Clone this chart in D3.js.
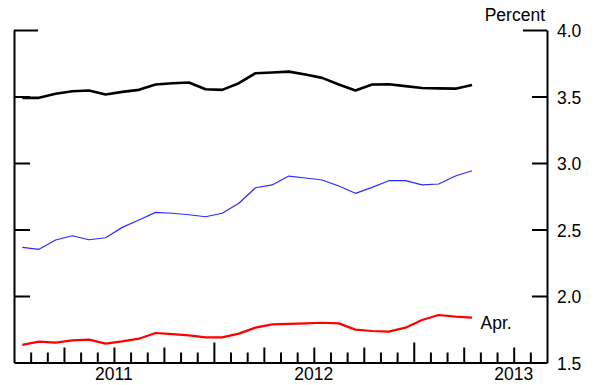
<!DOCTYPE html>
<html>
<head>
<meta charset="utf-8">
<script src="https://cdn.jsdelivr.net/npm/d3@7"></script>
<style>
  html, body { margin: 0; padding: 0; background: #fff; }
  svg { display: block; font-family: "Liberation Sans", Arial, sans-serif; }
</style>
</head>
<body>
<svg id="chart" width="603" height="385"></svg>
<script>
// Monthly observations, Jan 2011 .. Apr 2013
const startYear = 2011;
const nMonths = 28;
const seriesBlack = [3.49, 3.49, 3.52, 3.54, 3.545, 3.515, 3.535, 3.55, 3.59, 3.60, 3.605, 3.555,
                     3.55, 3.60, 3.675, 3.68, 3.687, 3.665, 3.64, 3.59, 3.545, 3.59, 3.592, 3.578,
                     3.564, 3.561, 3.559, 3.586];
const seriesBlue  = [2.366, 2.351, 2.421, 2.453, 2.423, 2.438, 2.516, 2.571, 2.629, 2.622, 2.611, 2.596,
                     2.622, 2.697, 2.814, 2.835, 2.902, 2.887, 2.872, 2.827, 2.772, 2.817, 2.867, 2.867,
                     2.835, 2.842, 2.902, 2.942];
const seriesRed   = [1.632, 1.657, 1.650, 1.667, 1.672, 1.642, 1.659, 1.679, 1.722, 1.714, 1.704, 1.689,
                     1.689, 1.717, 1.762, 1.787, 1.791, 1.794, 1.799, 1.794, 1.747, 1.737, 1.732, 1.762,
                     1.820, 1.857, 1.845, 1.838];
const yTicks = [1.5, 2.0, 2.5, 3.0, 3.5, 4.0];
const yearLabels = ["2011", "2012", "2013"];
const unitLabel = "Percent";
const endLabel = "Apr.";

const svg = d3.select("#chart");
const plotLeft = 14, plotRight = 547, plotTop = 30, plotBottom = 362.5;

// x in months since Jan 2011; axis spans 32 months (Jan 2011 .. Aug 2013)
const x = d3.scaleLinear().domain([0, 32]).range([plotLeft, plotRight]);
const y = d3.scaleLinear().domain([1.5, 4.0]).range([plotBottom, plotTop]);

// bottom axis: monthly ticks pointing up
const xAxis = d3.axisBottom(x)
  .tickValues(d3.range(0, 33))
  .tickSize(-10)
  .tickSizeOuter(0)
  .tickFormat("");
const gx = svg.append("g").attr("transform", `translate(0,${plotBottom})`).call(xAxis);
gx.select(".domain").attr("stroke", "#000").attr("stroke-width", 2);
gx.selectAll(".tick line")
  .attr("stroke", "#000").attr("stroke-width", 2)
  .attr("y2", d => d % 12 === 0 ? -20 : (d % 3 === 0 ? -15 : -10))
  .attr("display", d => (d === 0 || d === 32) ? "none" : null);

// year labels centered in each year
svg.append("g").selectAll("text").data(yearLabels).join("text")
  .attr("x", (d, i) => x(i * 12 + 6))
  .attr("y", 380)
  .attr("text-anchor", "middle")
  .attr("font-size", 17.5)
  .attr("fill", "#000")
  .text(d => d);

// left axis: ticks pointing right, no labels
const yAxisL = d3.axisLeft(y).tickValues(yTicks).tickSize(-16).tickSizeOuter(0).tickFormat("");
const gl = svg.append("g").attr("transform", `translate(${plotLeft},0)`).call(yAxisL);
gl.select(".domain").attr("stroke", "#000").attr("stroke-width", 2);
gl.selectAll(".tick line").attr("stroke", "#000").attr("stroke-width", 2)
  .attr("x2", d => d === 4.0 ? 24 : 16)
  .attr("display", d => d === 1.5 ? "none" : null);

// right axis: ticks pointing left, labels on right
const yAxisR = d3.axisRight(y).tickValues(yTicks).tickSize(-15).tickSizeOuter(0)
  .tickPadding(10).tickFormat(d3.format(".1f"));
const gr = svg.append("g").attr("transform", `translate(${plotRight},0)`).call(yAxisR);
gr.select(".domain").attr("stroke", "#000").attr("stroke-width", 2);
gr.selectAll(".tick line").attr("stroke", "#000").attr("stroke-width", 2)
  .attr("x2", d => d === 4.0 ? -24 : -15)
  .attr("display", d => d === 1.5 ? "none" : null);
gr.selectAll(".tick text")
  .attr("x", 10)
  .attr("dy", "0.38em")
  .attr("font-size", 17.5)
  .attr("font-family", "'Liberation Sans', Arial, sans-serif")
  .attr("fill", "#000");

svg.append("text")
  .attr("x", 545).attr("y", 21)
  .attr("text-anchor", "end")
  .attr("font-size", 17.5)
  .attr("fill", "#000")
  .text(unitLabel);

// lines
const line = d3.line()
  .x((d, i) => x(i + 0.5))
  .y(d => y(d));

const series = [
  { values: seriesBlack, color: "#000000", width: 2.6 },
  { values: seriesBlue,  color: "#2a2aff", width: 1.2 },
  { values: seriesRed,   color: "#ff0000", width: 2.2 }
];
svg.append("g").selectAll("path").data(series).join("path")
  .attr("d", d => line(d.values))
  .attr("fill", "none")
  .attr("stroke", d => d.color)
  .attr("stroke-width", d => d.width)
  .attr("stroke-linejoin", "round");

svg.append("text")
  .attr("x", x(nMonths - 0.5) + 8.5)
  .attr("y", y(seriesRed[nMonths - 1]) + 11.5)
  .attr("font-size", 17.5)
  .attr("fill", "#000")
  .text(endLabel);
</script>
</body>
</html>
